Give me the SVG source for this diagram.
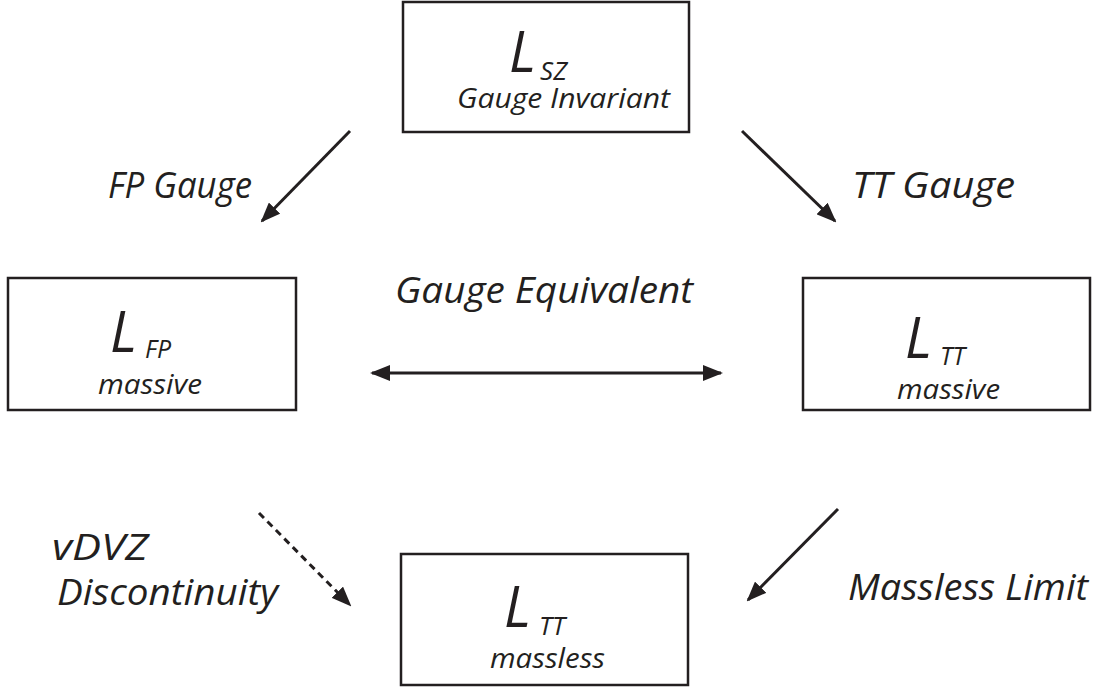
<svg xmlns="http://www.w3.org/2000/svg" width="1099" height="689" viewBox="0 0 1099 689">
<style>
.box{fill:#fff;stroke:#231f20;stroke-width:2.5}
text{font-family:"Open Sans","Noto Sans",sans-serif;font-style:italic;fill:#231f20}
.big{font-size:56px}
.sub{font-size:25px}
.desc{font-size:28px}
.lbl{font-size:37px}
.c{stroke:#231f20;stroke-width:3;fill:none}
.d{stroke-dasharray:7,5}
</style>
<defs>
<marker id="ah" viewBox="0 0 20 16" refX="18" refY="8" markerWidth="20" markerHeight="16" markerUnits="userSpaceOnUse" orient="auto-start-reverse">
<path d="M0,0 L20,8 L0,16 Z" fill="#231f20"/>
</marker>
</defs>
<g id="n-sz">
<rect class="box" x="403" y="2" width="286" height="130"/>
<text class="big" x="509" y="72">L</text>
<text class="sub" x="540" y="80" textLength="27" lengthAdjust="spacingAndGlyphs">SZ</text>
<text class="desc" x="457" y="108" textLength="213" lengthAdjust="spacingAndGlyphs">Gauge Invariant</text>
</g>
<g id="n-fp">
<rect class="box" x="8" y="278" width="288" height="132"/>
<text class="big" x="110" y="352">L</text>
<text class="sub" x="145" y="358" textLength="26" lengthAdjust="spacingAndGlyphs">FP</text>
<text class="desc" x="98" y="394" textLength="104" lengthAdjust="spacingAndGlyphs">massive</text>
</g>
<g id="n-tt">
<rect class="box" x="803" y="278" width="287" height="132"/>
<text class="big" x="905" y="358">L</text>
<text class="sub" x="940" y="365" textLength="25" lengthAdjust="spacingAndGlyphs">TT</text>
<text class="desc" x="897" y="399" textLength="103" lengthAdjust="spacingAndGlyphs">massive</text>
</g>
<g id="n-ttm">
<rect class="box" x="401" y="554" width="287" height="131"/>
<text class="big" x="504" y="627">L</text>
<text class="sub" x="539" y="635" textLength="26" lengthAdjust="spacingAndGlyphs">TT</text>
<text class="desc" x="490" y="668" textLength="115" lengthAdjust="spacingAndGlyphs">massless</text>
</g>
<g id="connectors">
<line class="c" x1="350" y1="131" x2="262" y2="221" marker-end="url(#ah)"/>
<line class="c" x1="742" y1="131" x2="835" y2="221" marker-end="url(#ah)"/>
<line class="c" x1="372" y1="373" x2="721" y2="373" marker-start="url(#ah)" marker-end="url(#ah)"/>
<line class="c d" x1="259" y1="513" x2="350" y2="605" marker-end="url(#ah)"/>
<line class="c" x1="838" y1="509" x2="748" y2="600" marker-end="url(#ah)"/>
</g>
<g id="labels">
<text class="lbl" x="108" y="198" textLength="144" lengthAdjust="spacingAndGlyphs">FP Gauge</text>
<text class="lbl" x="852" y="198" textLength="163" lengthAdjust="spacingAndGlyphs">TT Gauge</text>
<text class="lbl" x="395" y="303" textLength="298" lengthAdjust="spacingAndGlyphs">Gauge Equivalent</text>
<text class="lbl" x="52" y="560" textLength="96" lengthAdjust="spacingAndGlyphs">vDVZ</text>
<text class="lbl" x="57" y="605" textLength="221" lengthAdjust="spacingAndGlyphs">Discontinuity</text>
<text class="lbl" x="848" y="600" textLength="240" lengthAdjust="spacingAndGlyphs">Massless Limit</text>
</g>
</svg>
